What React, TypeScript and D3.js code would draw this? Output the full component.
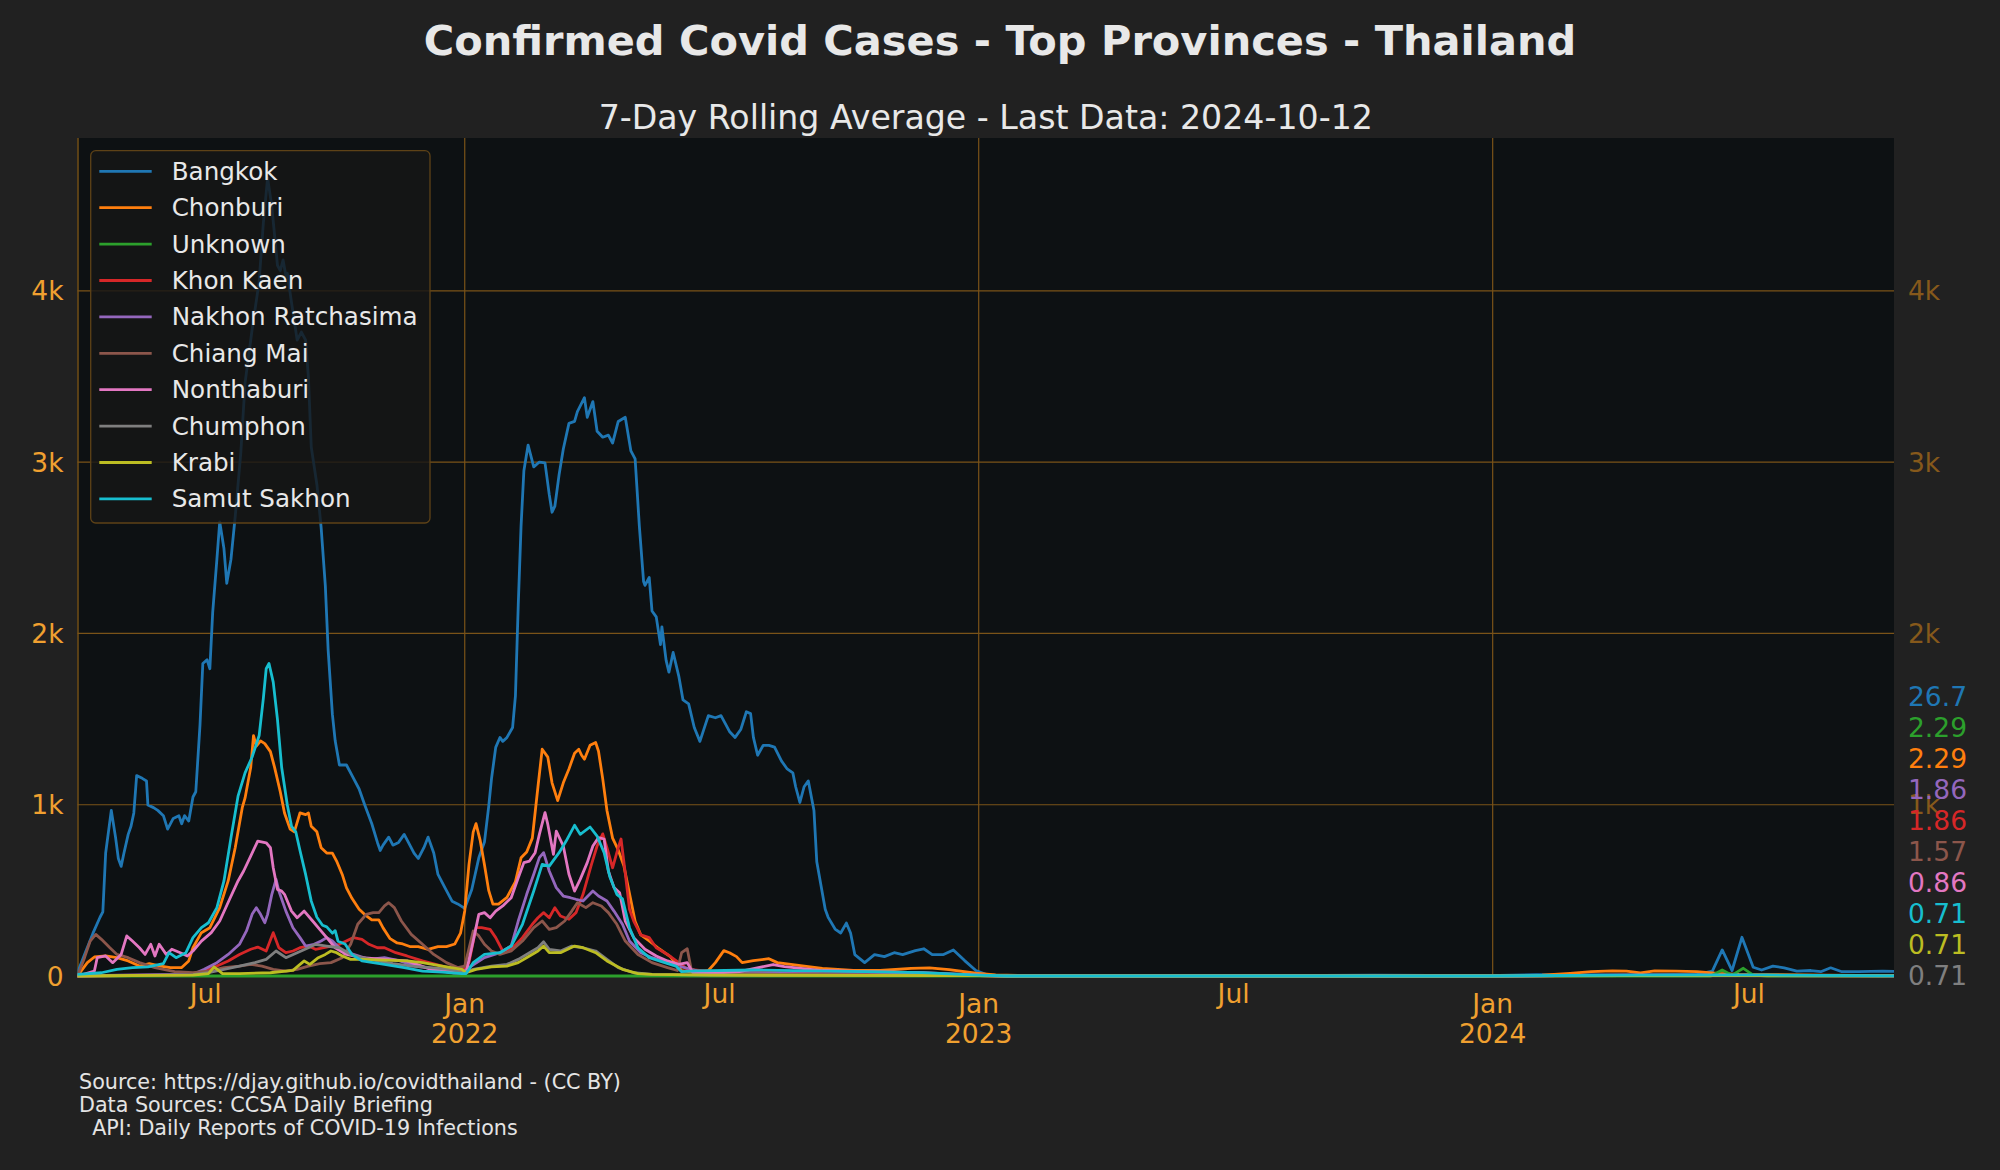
import React from "react";
import * as d3 from "d3";

// ---------------- DATA ----------------
const startDay = "2021-04-01"; // day 0 of the series
const lastDay = 1290; // 2024-10-12

const provinces = [
  "Bangkok",
  "Chonburi",
  "Unknown",
  "Khon Kaen",
  "Nakhon Ratchasima",
  "Chiang Mai",
  "Nonthaburi",
  "Chumphon",
  "Krabi",
  "Samut Sakhon",
];

const palette = [
  "#1f77b4",
  "#ff7f0e",
  "#2ca02c",
  "#d62728",
  "#9467bd",
  "#8c564b",
  "#e377c2",
  "#7f7f7f",
  "#bcbd22",
  "#17becf",
];

// [day offset from startDay, 7-day average cases]
const bangkok: [number, number][] = [
  [0, 20], [5, 125], [11, 250], [16, 343], [18, 375], [20, 718], [24, 967], [27, 811], [29, 686], [31, 640],
  [33, 718], [36, 827], [38, 874], [40, 952], [42, 1170], [46, 1154], [49, 1139], [50, 998], [54, 983], [57, 967],
  [61, 936], [64, 858], [68, 920], [72, 936], [74, 889], [76, 936], [79, 905], [82, 1045], [84, 1076], [87, 1466],
  [89, 1825], [92, 1847], [94, 1794], [96, 2122], [99, 2434], [101, 2652], [104, 2496], [106, 2293], [109, 2434],
  [112, 2683], [116, 3058], [119, 3463], [124, 3775], [129, 4056], [132, 4399], [135, 4660], [138, 4493],
  [142, 4150], [144, 4118], [146, 4181], [148, 4087], [149, 4103], [152, 3931], [156, 3713], [159, 3760],
  [162, 3713], [164, 3494], [166, 3089], [170, 2870], [173, 2621], [176, 2278], [178, 1903], [181, 1529],
  [183, 1373], [186, 1232], [191, 1232], [195, 1170], [200, 1092], [204, 998], [209, 889], [213, 780], [215, 733],
  [217, 764], [221, 811], [224, 764], [228, 780], [232, 827], [235, 780], [239, 718], [242, 686], [246, 749],
  [249, 811], [253, 718], [256, 593], [261, 515], [266, 437], [270, 421], [275, 395], [280, 505], [285, 690],
  [289, 782], [292, 989], [294, 1151], [297, 1335], [300, 1393], [302, 1370], [305, 1393], [309, 1451],
  [311, 1635], [313, 2166], [315, 2627], [317, 2950], [320, 3100], [324, 2973], [328, 3001], [332, 2996],
  [335, 2812], [337, 2708], [339, 2743], [342, 2927], [345, 3077], [349, 3227], [353, 3238], [355, 3296],
  [360, 3377], [362, 3262], [366, 3354], [369, 3181], [373, 3146], [377, 3158], [380, 3112], [384, 3238],
  [389, 3262], [393, 3066], [396, 3019], [399, 2627], [402, 2304], [403, 2281], [406, 2327], [408, 2131],
  [411, 2097], [414, 1935], [415, 2039], [418, 1843], [420, 1774], [423, 1889], [427, 1751], [430, 1612],
  [434, 1589], [438, 1451], [442, 1370], [448, 1520], [453, 1508], [457, 1520], [463, 1428], [467, 1393],
  [471, 1439], [475, 1543], [478, 1532], [480, 1393], [483, 1289], [487, 1347], [491, 1347], [495, 1336],
  [500, 1255], [504, 1209], [508, 1186], [510, 1105], [513, 1013], [516, 1105], [519, 1139], [523, 966],
  [525, 667], [528, 528], [531, 390], [533, 344], [538, 274], [542, 251], [546, 309], [549, 251], [552, 125],
  [559, 78], [566, 125], [573, 113], [580, 136], [586, 125], [595, 148], [601, 159], [607, 125], [615, 125],
  [622, 152], [630, 90], [638, 32], [646, 7], [660, 0], [700, 2], [800, 1], [921, 5], [1000, 2], [1036, 8],
  [1100, 5], [1150, 10], [1161, 29], [1168, 152], [1175, 32], [1182, 226], [1190, 51], [1196, 35], [1204, 58],
  [1212, 48], [1221, 29], [1231, 32], [1238, 25], [1245, 48], [1253, 25], [1265, 25], [1282, 29], [1290, 26.7],
];

const chonburi: [number, number][] = [
  [0, 0], [7, 78], [12, 111], [20, 117], [28, 107], [36, 88], [44, 58], [51, 72], [59, 58], [66, 49], [74, 49],
  [79, 88], [82, 165], [88, 253], [94, 282], [101, 399], [107, 555], [112, 749], [117, 983], [119, 1040],
  [123, 1217], [125, 1404], [127, 1342], [130, 1373], [133, 1357], [137, 1310], [140, 1217], [144, 1076],
  [147, 952], [151, 858], [154, 842], [158, 952], [162, 942], [164, 952], [166, 874], [170, 842], [173, 749],
  [177, 718], [181, 718], [184, 671], [188, 593], [191, 515], [195, 452], [200, 390], [204, 359], [209, 328],
  [214, 328], [217, 281], [222, 218], [227, 193], [231, 187], [236, 172], [242, 172], [249, 156], [256, 172],
  [262, 172], [268, 187], [272, 250], [275, 380], [278, 650], [281, 840], [283, 890], [286, 790], [289, 650],
  [292, 500], [295, 420], [299, 420], [305, 459], [311, 551], [315, 690], [319, 724], [323, 805], [327, 1105],
  [330, 1324], [334, 1278], [337, 1128], [341, 1024], [345, 1128], [349, 1209], [353, 1301], [356, 1324],
  [358, 1289], [360, 1266], [364, 1347], [368, 1363], [370, 1312], [373, 1151], [376, 966], [380, 805],
  [384, 736], [388, 644], [392, 482], [396, 320], [400, 240], [406, 205], [413, 159], [421, 113], [429, 32],
  [438, 21], [448, 32], [453, 78], [459, 148], [463, 136], [468, 113], [472, 78], [480, 90], [491, 101],
  [497, 78], [508, 67], [519, 55], [529, 44], [551, 32], [570, 32], [592, 44], [605, 48], [619, 37], [638, 16],
  [652, 7], [680, 0], [1000, 0], [1040, 5], [1060, 15], [1075, 25], [1090, 30], [1100, 28], [1110, 18],
  [1120, 30], [1135, 28], [1150, 25], [1165, 15], [1180, 10], [1200, 8], [1240, 5], [1290, 2.29],
];

const unknown: [number, number][] = [
  [0, 0], [1000, 0], [1160, 0], [1168, 35], [1175, 5], [1183, 45], [1190, 5], [1200, 0], [1280, 0], [1290, 2.29],
];

const khonKaen: [number, number][] = [
  [0, 0], [30, 3], [60, 5], [82, 8], [90, 29], [99, 58], [107, 88], [115, 126], [123, 156], [128, 169],
  [134, 146], [139, 253], [143, 165], [148, 136], [153, 146], [158, 165], [164, 175], [169, 156], [175, 165],
  [186, 185], [196, 224], [202, 214], [207, 185], [213, 165], [218, 165], [226, 136], [234, 117], [245, 88],
  [259, 58], [273, 29], [278, 78], [283, 282], [287, 282], [293, 272], [297, 224], [302, 146], [308, 156],
  [316, 224], [323, 302], [327, 340], [331, 370], [335, 340], [339, 399], [343, 350], [349, 331], [354, 370],
  [359, 477], [365, 652], [369, 759], [373, 830], [376, 749], [380, 632], [384, 749], [386, 800], [389, 600],
  [392, 390], [395, 321], [400, 240], [406, 224], [411, 165], [419, 126], [427, 78], [433, 40], [450, 25],
  [470, 30], [500, 20], [560, 10], [640, 3], [660, 0], [1000, 0], [1100, 4], [1200, 3], [1290, 1.86],
];

const nakhonRatchasima: [number, number][] = [
  [0, 0], [30, 5], [60, 8], [82, 10], [90, 39], [99, 78], [107, 126], [115, 185], [120, 263], [124, 360],
  [127, 399], [130, 360], [133, 311], [135, 360], [138, 477], [141, 564], [143, 496], [148, 379], [153, 282],
  [158, 224], [162, 175], [168, 185], [173, 204], [177, 224], [181, 204], [188, 146], [196, 126], [207, 97],
  [218, 107], [229, 88], [240, 58], [256, 39], [273, 19], [278, 49], [289, 107], [300, 136], [308, 175],
  [313, 321], [319, 477], [324, 594], [328, 691], [331, 720], [335, 613], [340, 516], [345, 467], [350, 457],
  [354, 448], [359, 438], [366, 496], [370, 467], [376, 438], [381, 379], [387, 302], [392, 204], [400, 136],
  [408, 107], [419, 78], [427, 58], [440, 30], [470, 20], [500, 15], [550, 10], [640, 3], [660, 0], [1000, 0],
  [1100, 5], [1200, 4], [1290, 1.86],
];

const chiangMai: [number, number][] = [
  [0, 0], [5, 107], [9, 204], [13, 243], [17, 214], [23, 165], [28, 126], [36, 107], [44, 78], [55, 49],
  [69, 25], [82, 19], [93, 29], [104, 49], [115, 58], [123, 68], [131, 58], [139, 39], [148, 29], [156, 39],
  [164, 58], [172, 72], [180, 78], [188, 107], [194, 185], [199, 302], [205, 360], [210, 370], [214, 370],
  [218, 409], [221, 428], [225, 399], [230, 321], [237, 243], [245, 185], [253, 126], [262, 78], [270, 49],
  [275, 58], [281, 263], [285, 234], [289, 185], [294, 146], [300, 126], [308, 146], [316, 204], [324, 282],
  [330, 321], [335, 272], [340, 282], [346, 321], [351, 379], [355, 428], [361, 399], [366, 428], [372, 409],
  [377, 370], [383, 302], [389, 204], [398, 126], [408, 78], [419, 49], [426, 32], [429, 136], [433, 159],
  [436, 32], [450, 15], [500, 10], [640, 3], [660, 0], [1000, 0], [1100, 3], [1200, 3], [1290, 1.57],
];

const nonthaburi: [number, number][] = [
  [0, 0], [12, 29], [14, 107], [20, 117], [25, 78], [31, 126], [35, 234], [39, 204], [44, 165], [48, 126],
  [52, 185], [55, 117], [58, 185], [63, 126], [67, 156], [73, 136], [78, 117], [82, 146], [88, 204], [95, 253],
  [101, 321], [108, 448], [114, 555], [118, 613], [123, 700], [128, 788], [134, 778], [137, 749], [139, 632],
  [142, 506], [145, 496], [147, 477], [152, 379], [156, 340], [161, 379], [167, 321], [172, 272], [177, 224],
  [183, 165], [191, 126], [202, 107], [218, 97], [234, 88], [251, 39], [267, 19], [276, 19], [281, 204],
  [285, 360], [289, 370], [293, 340], [297, 379], [302, 409], [308, 457], [313, 574], [317, 662], [321, 671],
  [325, 720], [328, 827], [332, 954], [334, 885], [338, 710], [340, 846], [345, 759], [349, 594], [353, 496],
  [357, 564], [362, 662], [366, 759], [370, 808], [374, 800], [377, 613], [381, 516], [385, 486], [389, 321],
  [395, 224], [403, 156], [411, 117], [419, 88], [427, 68], [433, 78], [437, 20], [450, 15], [470, 25],
  [494, 67], [502, 55], [529, 32], [560, 25], [600, 20], [640, 5], [660, 0], [1000, 0], [1100, 5], [1200, 3],
  [1290, 0.86],
];

const chumphon: [number, number][] = [
  [0, 0], [40, 3], [82, 8], [93, 19], [104, 39], [115, 58], [126, 78], [134, 97], [141, 146], [148, 107],
  [156, 136], [164, 165], [169, 185], [177, 175], [186, 165], [194, 126], [202, 107], [213, 88], [224, 72],
  [237, 58], [251, 49], [264, 39], [275, 19], [281, 39], [294, 58], [305, 68], [313, 97], [321, 136],
  [327, 165], [331, 200], [335, 156], [343, 146], [351, 175], [359, 165], [368, 146], [376, 97], [384, 49],
  [395, 19], [408, 10], [450, 5], [640, 2], [660, 0], [1000, 0], [1100, 2], [1290, 0.71],
];

const krabi: [number, number][] = [
  [0, 0], [40, 3], [82, 5], [93, 14], [97, 53], [103, 14], [115, 14], [137, 19], [153, 33], [161, 88],
  [165, 68], [171, 107], [176, 126], [180, 146], [184, 136], [188, 117], [194, 97], [202, 97], [218, 93],
  [234, 88], [245, 78], [259, 58], [273, 39], [276, 19], [283, 39], [294, 53], [305, 58], [313, 78],
  [321, 117], [327, 146], [331, 175], [335, 136], [343, 136], [353, 175], [359, 165], [368, 136], [376, 88],
  [387, 39], [398, 14], [408, 10], [450, 5], [640, 2], [660, 0], [1000, 0], [1100, 3], [1290, 0.71],
];

const samutSakhon: [number, number][] = [
  [0, 10], [17, 19], [28, 39], [39, 49], [50, 53], [61, 72], [65, 136], [70, 107], [77, 136], [82, 224],
  [88, 282], [93, 311], [99, 399], [104, 555], [109, 808], [114, 1050], [119, 1186], [124, 1279], [129, 1404],
  [132, 1622], [134, 1794], [136, 1825], [139, 1716], [142, 1498], [145, 1217], [149, 998], [152, 874],
  [155, 842], [158, 733], [162, 593], [166, 437], [170, 343], [174, 296], [177, 287], [181, 250], [183, 265],
  [185, 203], [190, 187], [195, 125], [202, 88], [218, 68], [232, 49], [245, 29], [259, 23], [273, 14],
  [276, 14], [281, 78], [289, 126], [300, 136], [308, 175], [316, 302], [324, 496], [330, 652], [335, 642],
  [342, 720], [347, 788], [353, 880], [357, 827], [364, 870], [369, 817], [374, 720], [378, 580], [383, 477],
  [387, 450], [392, 282], [398, 165], [406, 107], [417, 78], [425, 58], [429, 25], [440, 30], [480, 35],
  [520, 30], [560, 25], [600, 20], [640, 5], [660, 0], [1000, 0], [1100, 5], [1200, 6], [1290, 0.71],
];

const seriesData = [
  bangkok, chonburi, unknown, khonKaen, nakhonRatchasima,
  chiangMai, nonthaburi, chumphon, krabi, samutSakhon,
];

const yTickValues = [0, 1000, 2000, 3000, 4000];

const titleText = "Confirmed Covid Cases - Top Provinces - Thailand";
const subtitleText = "7-Day Rolling Average - Last Data: 2024-10-12";
const footerLines = [
  "Source: https://djay.github.io/covidthailand - (CC BY)",
  "Data Sources: CCSA Daily Briefing",
  "  API: Daily Reports of COVID-19 Infections",
];

// ---------------- LAYOUT ----------------
const W = 2000;
const H = 1170;
const plot = { left: 77.5, right: 1894, top: 138, bottom: 976 };
const FONT = "'DejaVu Sans', 'Liberation Sans', sans-serif";
const figBg = "#212121";
const axBg = "#0d1113";
const gridColor = "#7a5318";
const tickColor = "#f0a030";
const rightTickColor = "#86591b";

export default function App() {
  const start = d3.utcParse("%Y-%m-%d")(startDay) as Date;
  const toDate = (d: number) => d3.utcDay.offset(start, d);

  const x = d3
    .scaleUtc()
    .domain([toDate(0), toDate(lastDay)])
    .range([plot.left, plot.right]);

  const maxV = d3.max(seriesData, (s) => d3.max(s, (p) => p[1])) as number;
  const y = d3
    .scaleLinear()
    .domain([0, maxV * 1.05])
    .range([plot.bottom, plot.top]);

  const line = d3
    .line<[number, number]>()
    .x((p) => x(toDate(p[0])))
    .y((p) => y(p[1]));

  const xTicks = x.ticks(d3.utcMonth.every(6) as d3.TimeInterval);
  const monthFmt = d3.utcFormat("%b");
  const yearFmt = d3.utcFormat("%Y");
  const kFmt = (v: number) => (v === 0 ? "0" : `${v / 1000}k`);
  const valFmt = d3.format(".3~g");

  // end-of-series labels, stacked to avoid overlap
  const ends = seriesData.map((s, i) => ({ i, v: s[s.length - 1][1] }));
  const sortedEnds = [...ends].sort((a, b) => a.v - b.v || a.i - b.i);
  const labelGap = 31;
  let prevY = Infinity;
  const endLabels = sortedEnds.map((e) => {
    let ly = y(e.v);
    if (ly > prevY - labelGap) ly = prevY - labelGap;
    prevY = ly;
    return { ...e, ly };
  });

  const tickFont = 26.5;
  const legendFont = 24.6;
  const legendRow = 36.4;

  return (
    <svg
      width={W}
      height={H}
      viewBox={`0 0 ${W} ${H}`}
      style={{ position: "absolute", left: 0, top: 0, display: "block" }}
      fontFamily={FONT}
    >
      <defs>
        <clipPath id="plotClip">
          <rect
            x={plot.left}
            y={plot.top}
            width={plot.right - plot.left}
            height={plot.bottom - plot.top + 2}
          />
        </clipPath>
      </defs>
      <rect x={0} y={0} width={W} height={H} fill={figBg} />
      <rect
        x={plot.left}
        y={plot.top}
        width={plot.right - plot.left}
        height={plot.bottom - plot.top}
        fill={axBg}
      />

      {/* titles */}
      <text
        x={W / 2}
        y={55}
        textAnchor="middle"
        fontSize={41.5}
        fontWeight="bold"
        fill="#e8e8e8"
      >
        {titleText}
      </text>
      <text
        x={(plot.left + plot.right) / 2}
        y={128.5}
        textAnchor="middle"
        fontSize={33.2}
        fill="#e8e8e8"
      >
        {subtitleText}
      </text>

      {/* grid */}
      {yTickValues
        .filter((v) => v > 0)
        .map((v) => (
          <line
            key={"gy" + v}
            x1={plot.left}
            x2={plot.right}
            y1={y(v)}
            y2={y(v)}
            stroke={gridColor}
            strokeWidth={1.2}
          />
        ))}
      {xTicks
        .filter((t) => t.getUTCMonth() === 0)
        .map((t) => (
          <line
            key={"gx" + t.toISOString()}
            x1={x(t)}
            x2={x(t)}
            y1={plot.top}
            y2={plot.bottom}
            stroke={gridColor}
            strokeWidth={1.2}
          />
        ))}
      <line
        x1={plot.left + 0.5}
        x2={plot.left + 0.5}
        y1={plot.top}
        y2={plot.bottom}
        stroke={gridColor}
        strokeWidth={1.4}
      />

      {/* series */}
      <g clipPath="url(#plotClip)">
        {seriesData.map((s, i) => (
          <path
            key={provinces[i]}
            d={line(s) || ""}
            fill="none"
            stroke={palette[i]}
            strokeWidth={2.8}
            strokeLinejoin="round"
            strokeLinecap="round"
          />
        ))}
      </g>

      {/* left y tick labels */}
      {yTickValues.map((v) => (
        <text
          key={"ly" + v}
          x={63.5}
          y={y(v)}
          textAnchor="end"
          dominantBaseline="central"
          fontSize={tickFont}
          fill={tickColor}
        >
          {kFmt(v)}
        </text>
      ))}
      {/* right y tick labels (the zero one is hidden under the end labels) */}
      {yTickValues
        .filter((v) => v > 0)
        .map((v) => (
          <text
            key={"ry" + v}
            x={1908}
            y={y(v)}
            textAnchor="start"
            dominantBaseline="central"
            fontSize={tickFont}
            fill={rightTickColor}
          >
            {kFmt(v)}
          </text>
        ))}

      {/* x tick labels */}
      {xTicks.map((t) => {
        const isJan = t.getUTCMonth() === 0;
        return isJan ? (
          <g key={"xt" + t.toISOString()}>
            <text x={x(t)} y={1012.7} textAnchor="middle" fontSize={tickFont} fill={tickColor}>
              {monthFmt(t)}
            </text>
            <text x={x(t)} y={1043.3} textAnchor="middle" fontSize={tickFont} fill={tickColor}>
              {yearFmt(t)}
            </text>
          </g>
        ) : (
          <text
            key={"xt" + t.toISOString()}
            x={x(t)}
            y={1002.7}
            textAnchor="middle"
            fontSize={tickFont}
            fill={tickColor}
          >
            {monthFmt(t)}
          </text>
        );
      })}

      {/* end value labels */}
      {endLabels.map((e) => (
        <text
          key={"end" + e.i}
          x={1908}
          y={e.ly}
          dominantBaseline="central"
          fontSize={tickFont}
          fill={palette[e.i]}
        >
          {valFmt(e.v)}
        </text>
      ))}

      {/* legend */}
      <g>
        <rect
          x={90.7}
          y={150.7}
          width={339.3}
          height={372.3}
          rx={5}
          fill="#161616"
          fillOpacity={0.82}
          stroke="#5e4217"
          strokeWidth={1.3}
        />
        {provinces.map((p, i) => {
          const cy = 171.3 + i * legendRow;
          return (
            <g key={"lg" + p}>
              <line x1={99.3} x2={151.7} y1={cy} y2={cy} stroke={palette[i]} strokeWidth={2.8} />
              <text
                x={171.7}
                y={cy}
                dominantBaseline="central"
                fontSize={legendFont}
                fill="#e8e8e8"
              >
                {p}
              </text>
            </g>
          );
        })}
      </g>

      {/* footer */}
      {footerLines.map((l, i) => (
        <text
          key={"ft" + i}
          x={79}
          y={1089 + i * 23}
          fontSize={20.7}
          fill="#e4e4e4"
          style={{ whiteSpace: "pre" }}
        >
          {l}
        </text>
      ))}
    </svg>
  );
}
